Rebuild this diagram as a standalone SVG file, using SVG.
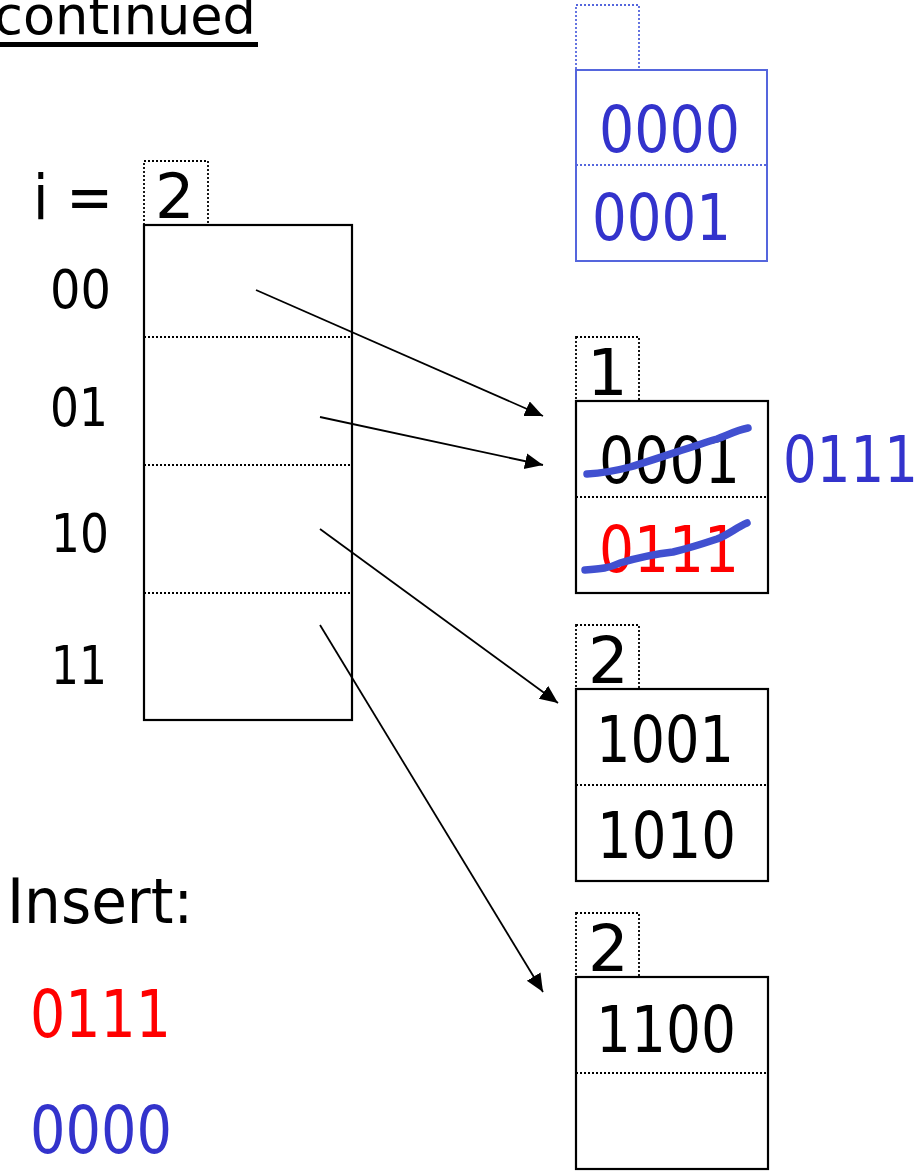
<svg xmlns="http://www.w3.org/2000/svg" width="920" height="1172" viewBox="0 0 920 1172">
<style>
.t{font-family:"DejaVu Sans","Liberation Sans",sans-serif;fill:#000}
.big{font-size:64px}
.lbl{font-size:53px}
.blue{fill:#3333cc}
.red{fill:#ff0000}
.box{fill:none;stroke:#000;stroke-width:2.2}
.dot{fill:none;stroke:#000;stroke-width:1.8;stroke-dasharray:2 2}
.bbox{fill:none;stroke:#5566dd;stroke-width:2}
.bdot{fill:none;stroke:#5566dd;stroke-width:1.8;stroke-dasharray:2 2}
.arr{fill:none;stroke:#000;stroke-width:1.8;marker-end:url(#ah)}
.strike{fill:none;stroke:#4150d0;stroke-width:7.5;stroke-linecap:round;stroke-linejoin:round}
</style>
<defs>
<marker id="ah" markerUnits="userSpaceOnUse" markerWidth="20" markerHeight="18" refX="18" refY="8" orient="auto">
<path d="M0,0 L18,8 L0,16 z" fill="#000"/>
</marker>
</defs>
<rect width="920" height="1172" fill="#fff"/>
<g id="title">
<text class="t" x="256" y="34" font-size="54" text-anchor="end" textLength="262" lengthAdjust="spacingAndGlyphs">continued</text>
<line x1="0" y1="44.5" x2="258" y2="44.5" stroke="#000" stroke-width="5"/>
</g>
<g id="directory">
<text class="t" x="33" y="219" font-size="62" textLength="80" lengthAdjust="spacingAndGlyphs">i =</text>
<rect class="dot" x="144" y="161" width="64" height="64"/>
<text class="t" x="155" y="218" font-size="62">2</text>
<rect class="box" x="144" y="225" width="208" height="495"/>
<line class="dot" x1="144" y1="337" x2="352" y2="337"/>
<line class="dot" x1="144" y1="465" x2="352" y2="465"/>
<line class="dot" x1="144" y1="593" x2="352" y2="593"/>
<text class="t lbl" x="50" y="308" textLength="61" lengthAdjust="spacingAndGlyphs">00</text>
<text class="t lbl" x="50" y="426" textLength="58" lengthAdjust="spacingAndGlyphs">01</text>
<text class="t lbl" x="51" y="552" textLength="58" lengthAdjust="spacingAndGlyphs">10</text>
<text class="t lbl" x="51" y="684" textLength="56" lengthAdjust="spacingAndGlyphs">11</text>
</g>
<g id="bucket-new">
<rect class="bdot" x="576" y="5" width="63" height="65"/>
<rect class="bbox" x="576" y="70" width="191" height="191"/>
<line class="bdot" x1="576" y1="165" x2="767" y2="165"/>
<text class="t big blue" x="599" y="152" textLength="141" lengthAdjust="spacingAndGlyphs">0000</text>
<text class="t big blue" x="592" y="240" textLength="139" lengthAdjust="spacingAndGlyphs">0001</text>
</g>
<g id="bucket-1">
<rect class="dot" x="576" y="337" width="63" height="64"/>
<text class="t big" x="587" y="395">1</text>
<rect class="box" x="576" y="401" width="192" height="192"/>
<line class="dot" x1="576" y1="497" x2="768" y2="497"/>
<text class="t big" x="599" y="483" textLength="141" lengthAdjust="spacingAndGlyphs">0001</text>
<text class="t big red" x="599" y="572" textLength="140" lengthAdjust="spacingAndGlyphs">0111</text>
<path class="strike" d="M587,474 C605,473 615,471 630,467 C660,458 690,447 717,439 C728,435 737,430 748,428"/>
<path class="strike" d="M585,570 C600,569 610,568 620,563 C640,557 655,554 673,552 C690,548 705,543 717,539 C728,535 737,527 747,523"/>
<text class="t big blue" x="783" y="482" textLength="135" lengthAdjust="spacingAndGlyphs">0111</text>
</g>
<g id="bucket-2a">
<rect class="dot" x="576" y="625" width="63" height="64"/>
<text class="t big" x="588" y="683">2</text>
<rect class="box" x="576" y="689" width="192" height="192"/>
<line class="dot" x1="576" y1="785" x2="768" y2="785"/>
<text class="t big" x="596" y="762" textLength="138" lengthAdjust="spacingAndGlyphs">1001</text>
<text class="t big" x="597" y="858" textLength="139" lengthAdjust="spacingAndGlyphs">1010</text>
</g>
<g id="bucket-2b">
<rect class="dot" x="576" y="913" width="63" height="64"/>
<text class="t big" x="588" y="971">2</text>
<rect class="box" x="576" y="977" width="192" height="192"/>
<line class="dot" x1="576" y1="1073" x2="768" y2="1073"/>
<text class="t big" x="596" y="1052" textLength="140" lengthAdjust="spacingAndGlyphs">1100</text>
</g>
<g id="insert">
<text class="t" x="7" y="923" font-size="63" textLength="186" lengthAdjust="spacingAndGlyphs">Insert:</text>
<text class="t red" x="30" y="1037" font-size="66" textLength="141" lengthAdjust="spacingAndGlyphs">0111</text>
<text class="t blue" x="30" y="1153" font-size="66" textLength="142" lengthAdjust="spacingAndGlyphs">0000</text>
</g>
<g id="connectors">
<line class="arr" x1="256" y1="290" x2="543" y2="416"/>
<line class="arr" x1="320" y1="417" x2="543" y2="465"/>
<line class="arr" x1="320" y1="529" x2="558" y2="703"/>
<line class="arr" x1="320" y1="625" x2="543" y2="992"/>
</g>
</svg>
